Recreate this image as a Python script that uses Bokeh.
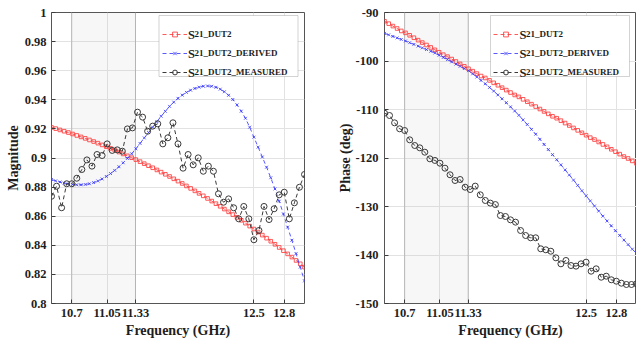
from bokeh.plotting import figure
from bokeh.models import Range1d, FixedTicker, BoxAnnotation, Legend, LegendItem, Label
from bokeh.layouts import row
from bokeh.embed import file_html
from bokeh.resources import INLINE

# ---------------- data ----------------
freq = [10.5, 10.5417, 10.5833, 10.625, 10.6667, 10.7083, 10.75, 10.7917, 10.8333, 10.875,
        10.9167, 10.9583, 11.0, 11.0417, 11.0833, 11.125, 11.1667, 11.2083, 11.25, 11.2917,
        11.3333, 11.375, 11.4167, 11.4583, 11.5, 11.5417, 11.5833, 11.625, 11.6667, 11.7083,
        11.75, 11.7917, 11.8333, 11.875, 11.9167, 11.9583, 12.0, 12.0417, 12.0833, 12.125,
        12.1667, 12.2083, 12.25, 12.2917, 12.3333, 12.375, 12.4167, 12.4583, 12.5, 12.5417,
        12.5833, 12.625, 12.6667, 12.7083, 12.75, 12.7917, 12.8333, 12.875, 12.9167, 12.9583,
        13.0]

freq_meas = [10.5, 10.55, 10.6, 10.65, 10.7, 10.75, 10.8, 10.85, 10.9, 10.95,
             11.0, 11.05, 11.1, 11.15, 11.2, 11.25, 11.3, 11.35, 11.4, 11.45,
             11.5, 11.55, 11.6, 11.65, 11.7, 11.75, 11.8, 11.85, 11.9, 11.95,
             12.0, 12.05, 12.1, 12.15, 12.2, 12.25, 12.3, 12.35, 12.4, 12.45,
             12.5, 12.55, 12.6, 12.65, 12.7, 12.75, 12.8, 12.85, 12.9, 12.95, 13.0]

mag_dut2 = [0.9210, 0.9202, 0.9193, 0.9184, 0.9175, 0.9165, 0.9155, 0.9145, 0.9135, 0.9124,
            0.9113, 0.9102, 0.9090, 0.9078, 0.9066, 0.9054, 0.9041, 0.9028, 0.9015, 0.9002,
            0.8989, 0.8975, 0.8961, 0.8947, 0.8933, 0.8918, 0.8903, 0.8888, 0.8873, 0.8857,
            0.8841, 0.8825, 0.8808, 0.8791, 0.8774, 0.8757, 0.8740, 0.8722, 0.8704, 0.8686,
            0.8668, 0.8649, 0.8630, 0.8611, 0.8592, 0.8572, 0.8552, 0.8532, 0.8512, 0.8491,
            0.8470, 0.8449, 0.8428, 0.8407, 0.8385, 0.8363, 0.8341, 0.8319, 0.8296, 0.8273,
            0.8250]

mag_derived = [0.8852, 0.8843, 0.8835, 0.8828, 0.8822, 0.8818, 0.8816, 0.8816, 0.8818, 0.8823,
               0.8831, 0.8842, 0.8856, 0.8873, 0.8893, 0.8915, 0.8940, 0.8967, 0.8997, 0.9029,
               0.9063, 0.9100, 0.9138, 0.9175, 0.9212, 0.9250, 0.9287, 0.9321, 0.9355, 0.9384,
               0.9410, 0.9432, 0.9451, 0.9466, 0.9478, 0.9487, 0.9493, 0.9495, 0.9493, 0.9486,
               0.9473, 0.9455, 0.9431, 0.9402, 0.9365, 0.9322, 0.9273, 0.9212, 0.9143, 0.9075,
               0.9007, 0.8937, 0.8864, 0.8787, 0.8703, 0.8615, 0.8525, 0.8435, 0.8343, 0.8250,
               0.8155]

mag_measured = [0.8737, 0.8806, 0.8658, 0.8823, 0.8823, 0.8861, 0.8921, 0.8987, 0.8944, 0.9024,
                0.9017, 0.9097, 0.9052, 0.9056, 0.9047, 0.9200, 0.9207, 0.9315, 0.9281, 0.9184,
                0.9219, 0.9235, 0.9097, 0.9139, 0.9242, 0.9097, 0.8930, 0.9024, 0.8953, 0.9001,
                0.8909, 0.8944, 0.8909, 0.8754, 0.8696, 0.8719, 0.8658, 0.8582, 0.8667, 0.8582,
                0.8438, 0.8502, 0.8667, 0.8577, 0.8651, 0.8747, 0.8765, 0.8582, 0.8692, 0.8799,
                0.8887]

ph_dut2 = [-91.8, -92.3, -92.8, -93.3, -93.8, -94.2, -94.7, -95.2, -95.7, -96.2,
           -96.7, -97.2, -97.7, -98.2, -98.7, -99.1, -99.6, -100.1, -100.6, -101.1,
           -101.6, -102.1, -102.6, -103.1, -103.5, -104.0, -104.5, -105.0, -105.5, -106.0,
           -106.5, -107.0, -107.4, -107.9, -108.4, -108.9, -109.4, -109.9, -110.4, -110.9,
           -111.4, -111.8, -112.3, -112.8, -113.3, -113.8, -114.3, -114.8, -115.3, -115.8,
           -116.2, -116.7, -117.2, -117.7, -118.2, -118.7, -119.2, -119.7, -120.1, -120.6,
           -121.1]

ph_derived = [-94.30, -94.61, -94.93, -95.24, -95.55, -95.87, -96.22, -96.58, -96.93, -97.29,
              -97.64, -97.99, -98.35, -98.81, -99.27, -99.72, -100.18, -100.64, -101.10, -101.56,
              -102.00, -102.65, -103.30, -104.00, -104.70, -105.45, -106.20, -107.00, -107.80, -108.60,
              -109.45, -110.30, -111.20, -112.15, -113.10, -114.10, -115.10, -116.15, -117.20, -118.25,
              -119.30, -120.35, -121.40, -122.45, -123.50, -124.55, -125.65, -126.75, -127.80, -128.85,
              -129.90, -130.95, -132.00, -133.00, -134.00, -135.00, -135.95, -136.90, -137.85, -138.80,
              -139.70]

ph_measured = [-110.76, -111.24, -112.75, -113.98, -114.33, -116.25, -117.42, -117.90, -118.80, -120.17,
               -120.50, -121.07, -122.10, -123.46, -124.64, -124.43, -126.02, -126.50, -125.80, -127.59,
               -128.76, -129.30, -129.60, -131.86, -132.06, -132.75, -133.23, -134.95, -135.98, -136.45,
               -136.45, -138.72, -138.93, -139.22, -140.58, -141.82, -141.13, -142.17, -142.30, -141.82,
               -141.48, -143.34, -142.85, -144.58, -144.37, -145.11, -145.40, -145.81, -146.08, -146.08,
               -145.94]

x_ticks = [10.7, 11.05, 11.33, 12.5, 12.8]
x_tick_labels = ["10.7", "11.05", "11.33", "12.5", "12.8"]
mag_ticks = [0.8, 0.82, 0.84, 0.86, 0.88, 0.9, 0.92, 0.94, 0.96, 0.98, 1.0]
mag_tick_labels = ["0.8", "0.82", "0.84", "0.86", "0.88", "0.9", "0.92", "0.94", "0.96", "0.98", "1"]
ph_ticks = [-150, -140, -130, -120, -110, -100, -90]
ph_tick_labels = ["-150", "-140", "-130", "-120", "-110", "-100", "-90"]
band = [10.7, 11.33]
x_limits = [10.5, 13.0]
series_subscripts = ["21_DUT2", "21_DUT2_DERIVED", "21_DUT2_MEASURED"]

# ---------------- style ----------------
FONT = "Liberation Serif"
RED = "#ff3c3c"
BLUE = "#3c3cff"
DARK = "#3a3a3a"
TXT = "#1e1e1e"
FRAME_H = 291


def style_main_axis(ax, standoff, label_standoff):
    ax.major_label_text_font = FONT
    ax.major_label_text_font_style = "bold"
    ax.major_label_text_font_size = "12.5px"
    ax.major_label_text_color = TXT
    ax.axis_label_text_font = FONT
    ax.axis_label_text_font_style = "bold"
    ax.axis_label_text_font_size = "14px"
    ax.axis_label_text_color = TXT
    ax.major_tick_in = 4
    ax.major_tick_out = 0
    ax.major_tick_line_color = DARK
    ax.minor_tick_line_color = None
    ax.axis_line_color = None
    ax.major_label_standoff = standoff
    ax.axis_label_standoff = label_standoff


def make_panel(y_lim, y_ticks, y_labels, y_title, ys, left_border, right_border,
               frame_w, ytick_standoff, ylabel_standoff, legend_dx):
    p = figure(frame_width=frame_w, frame_height=FRAME_H,
               min_border_left=left_border, min_border_right=right_border,
               min_border_top=12, min_border_bottom=40,
               x_range=Range1d(x_limits[0], x_limits[1]),
               y_range=Range1d(y_lim[0], y_lim[1]),
               output_backend="svg", toolbar_location=None)
    p.outline_line_color = "#555555"
    p.outline_line_width = 1
    p.background_fill_color = "white"
    p.border_fill_color = "white"

    p.xaxis.ticker = FixedTicker(ticks=x_ticks)
    p.xaxis.major_label_overrides = dict(zip(x_ticks, x_tick_labels))
    p.xaxis.axis_label = "Frequency (GHz)"
    style_main_axis(p.xaxis[0], 5, 3)

    p.yaxis.ticker = FixedTicker(ticks=y_ticks)
    p.yaxis.major_label_overrides = dict(zip(y_ticks, y_labels))
    p.yaxis.axis_label = y_title
    style_main_axis(p.yaxis[0], ytick_standoff, ylabel_standoff)

    p.xgrid.ticker = FixedTicker(ticks=x_ticks)
    p.ygrid.ticker = FixedTicker(ticks=y_ticks)
    p.grid.grid_line_color = "#e2e2e2"
    p.grid.grid_line_width = 1

    # shaded band
    p.add_layout(BoxAnnotation(left=band[0], right=band[1], fill_color="#bdbdbd",
                               fill_alpha=0.12, line_color="#555555", line_width=1,
                               level="underlay"))

    y0, y1 = y_lim

    def dx(rel):
        return x_limits[0] + rel / frame_w * (x_limits[1] - x_limits[0])

    def dy(rel):
        return y1 - rel / FRAME_H * (y1 - y0)

    y_dut2, y_der, y_meas = ys
    l1 = p.line(freq, y_dut2, line_color=RED, line_dash="4 3", line_width=1, line_alpha=0.85)
    s1 = p.scatter(freq, y_dut2, marker="square", size=3.6, line_color=RED, fill_color=None,
                   line_width=1, line_alpha=0.85)
    l2 = p.line(freq, y_der, line_color=BLUE, line_dash="4 3", line_width=1, line_alpha=0.85)
    s2 = p.scatter(freq, y_der, marker="x", size=4, line_color=BLUE, line_width=1,
                   line_alpha=0.85)
    l3 = p.line(freq_meas, y_meas, line_color=DARK, line_dash="4 3", line_width=1)
    s3 = p.scatter(freq_meas, y_meas, marker="circle", size=6, line_color=DARK,
                   fill_color=None, line_width=1)

    # legend frame
    p.add_layout(BoxAnnotation(left=dx(107.5 + legend_dx), right=dx(246.5 + legend_dx),
                               top=dy(3), bottom=dy(64), fill_color="white", fill_alpha=1,
                               line_color="#6e6e6e", line_width=1))

    legend = Legend(items=[LegendItem(label=series_subscripts[0], renderers=[l1, s1]),
                           LegendItem(label=series_subscripts[1], renderers=[l2, s2]),
                           LegendItem(label=series_subscripts[2], renderers=[l3, s3])],
                    location=(110.5 + legend_dx, 225.5), padding=0, spacing=7, margin=0,
                    glyph_width=25, glyph_height=12, label_height=12, label_width=10,
                    label_standoff=8, label_text_font=FONT, label_text_font_style="bold",
                    label_text_font_size="9px", label_text_color=TXT,
                    background_fill_alpha=0, border_line_color=None)
    p.add_layout(legend)

    for k in range(3):
        p.add_layout(Label(x=dx(136.5 + legend_dx), y=dy(22.5 + 19 * k), text="S",
                           text_font=FONT, text_font_style="bold", text_font_size="12.5px",
                           text_color=TXT, text_baseline="alphabetic", text_align="left"))
    return p


p1 = make_panel([0.8, 1.0], mag_ticks, mag_tick_labels, "Magnitude",
                (mag_dut2, mag_derived, mag_measured), 51, 16, 253, 5, 1, 0)
p2 = make_panel([-150, -90], ph_ticks, ph_tick_labels, "Phase (deg)",
                (ph_dut2, ph_derived, ph_measured), 64, 0, 252, 6, 0, -1.5)

layout = row(p1, p2)
open("out.html", "w").write(file_html(layout, INLINE))
